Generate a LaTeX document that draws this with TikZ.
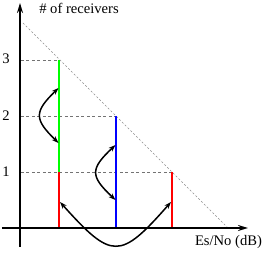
\documentclass[tikz,border=0pt]{standalone}
\usepackage{fontspec}
\setmainfont{Liberation Serif}
\usetikzlibrary{arrows.meta}
\definecolor{pgreen}{RGB}{0,255,0}
\definecolor{pblue}{RGB}{0,0,255}
\definecolor{pred}{RGB}{255,0,0}
\begin{document}
\begin{tikzpicture}[x=1pt,y=-1pt,
  axis/.style={line width=2.4pt,-{Stealth[length=10pt,width=6pt]}},
  level/.style={black!55,line width=0.7pt,dash pattern=on 3pt off 2.5pt},
  limit/.style={black!45,line width=0.6pt,dash pattern=on 2pt off 2pt},
  bar/.style={line width=2.2pt},
  swaparrow/.style={line width=1.5pt,{Stealth[length=7pt,width=5pt]}-{Stealth[length=7pt,width=5pt]}},
  lbl/.style={font=\fontsize{14.6}{17}\selectfont,inner sep=0pt,anchor=base}]
\useasboundingbox (0,0) rectangle (266,253);
% named points
\coordinate (yaxbot) at (20,247);
\coordinate (yaxtop) at (20,3);
\coordinate (xaxl) at (2,228);
\coordinate (xaxr) at (248,228);
\coordinate (l3) at (21,60);
\coordinate (l2) at (21,116);
\coordinate (l1) at (21,172);
\coordinate (g3) at (59,60);
\coordinate (g1) at (59,172);
\coordinate (g0) at (59,228);
\coordinate (b2) at (116,116);
\coordinate (b0) at (116,228);
\coordinate (r1) at (172,172);
\coordinate (r0) at (172,228);
\coordinate (dtop) at (23,23);
\coordinate (dbot) at (228,228);
% arrow ends
\coordinate (ga) at (58.5,88);
\coordinate (gb) at (58.5,143);
\coordinate (ba) at (115.5,145);
\coordinate (bb) at (115.5,200);
\coordinate (ra) at (60,202);
\coordinate (rb) at (171,202);
% dashed guides
\draw[level] (l3) -- (g3);
\draw[level] (l2) -- (b2);
\draw[level] (l1) -- (r1);
\draw[limit] (dtop) -- (dbot);
% bars
\draw[bar,pgreen] (g3) -- (g1);
\draw[bar,pred] (g1) -- (g0);
\draw[bar,pblue] (b2) -- (b0);
\draw[bar,pred] (r1) -- (r0);
% axes
\draw[axis] (yaxbot) -- (yaxtop);
\draw[axis] (xaxl) -- (xaxr);
% curved arrows
\draw[swaparrow] (ga) .. controls (34,112) and (34,119) .. (gb);
\draw[swaparrow] (ba) .. controls (90,169) and (90,176) .. (bb);
\draw[swaparrow] (ra) .. controls (112,260) and (120,260) .. (rb);
% labels
\node[lbl] (ylab) at (79,13.5) {\# of receivers};
\node[lbl] (xlab) at (228.5,245.5) {Es/No (dB)};
\node[lbl] (n3) at (6,64) {3};
\node[lbl] (n2) at (6,121) {2};
\node[lbl] (n1) at (6,177) {1};
\end{tikzpicture}
\end{document}
